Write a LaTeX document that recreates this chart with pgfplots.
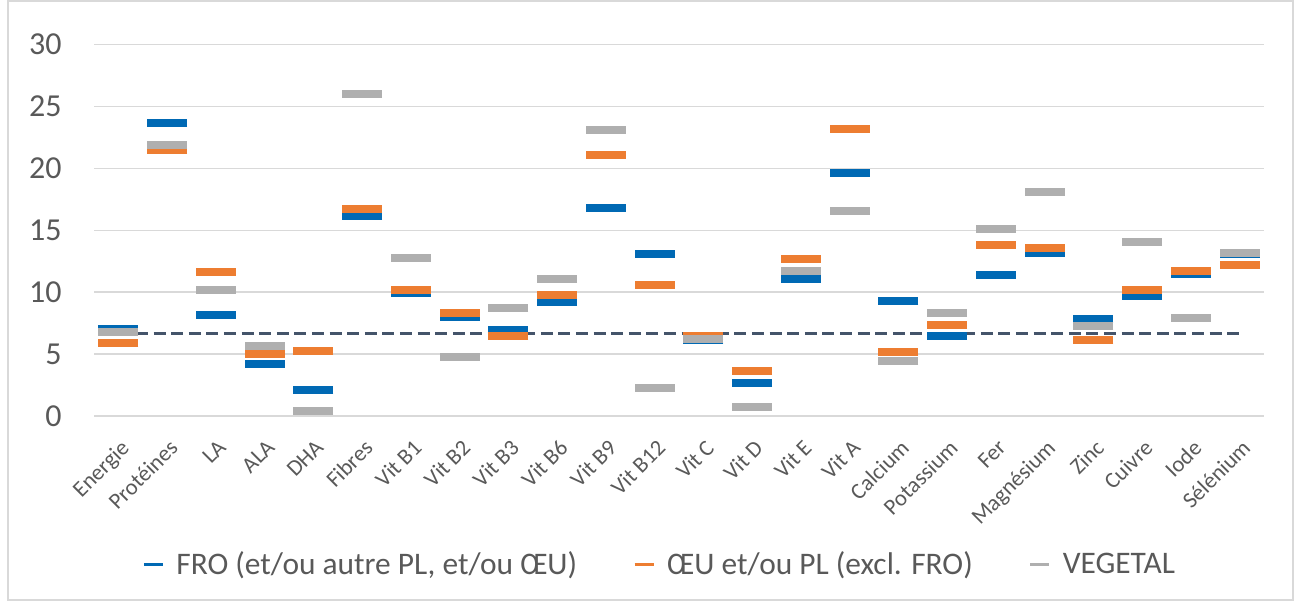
\documentclass[border=0pt]{standalone}
\usepackage{fontspec}
\setmainfont{Carlito}
\usepackage{pgfplots}
\pgfplotsset{compat=1.18}
\definecolor{fro}{HTML}{0069B4}
\definecolor{oeu}{HTML}{ED7D31}
\definecolor{veg}{HTML}{AFAFAF}
\definecolor{txt}{HTML}{595959}
\definecolor{grd}{HTML}{D9D9D9}
\definecolor{ref}{HTML}{44546A}

% x = category index, y = value
\pgfplotstableread{
x y
0 7.03
1 23.67
2 8.16
3 4.20
4 2.10
5 16.16
6 9.94
7 8.00
8 6.95
9 9.20
10 16.80
11 13.09
12 6.17
13 2.66
14 11.06
15 19.63
16 9.29
17 6.46
18 11.39
19 13.17
20 7.84
21 9.69
22 11.47
23 13.09
}\fro
\pgfplotstableread{
x y
0 5.90
1 21.51
2 11.63
3 5.00
4 5.25
5 16.72
6 10.18
7 8.32
8 6.46
9 9.78
10 21.08
11 10.58
12 6.46
13 3.63
14 12.68
15 23.18
16 5.17
17 7.35
18 13.81
19 13.57
20 6.14
21 10.18
22 11.71
23 12.20
}\oeu
\pgfplotstableread{
x y
0 6.81
1 21.89
2 10.18
3 5.65
4 0.40
5 26.00
6 12.76
7 4.77
8 8.72
9 11.06
10 23.10
11 2.26
12 6.25
13 0.73
14 11.71
15 16.56
16 4.44
17 8.32
18 15.10
19 18.09
20 7.27
21 14.05
22 7.92
23 13.17
}\veg

\begin{document}
\begin{tikzpicture}
\path[use as bounding box] (0,0) rectangle (647pt,300.5pt);
\draw[grd,line width=0.75pt] (4pt,0.4pt) rectangle (646.4pt,300.1pt);
\begin{axis}[
  at={(47pt,92.5pt)},anchor=south west,
  scale only axis,width=585pt,height=185.7pt,
  xmin=-0.5,xmax=23.5,ymin=0,ymax=30,
  ytick={0,5,...,30},
  xtick={0,...,23},
  xticklabels={Energie,Protéines,LA,ALA,DHA,Fibres,Vit B1,Vit B2,Vit B3,Vit B6,Vit B9,Vit B12,Vit C,Vit D,Vit E,Vit A,Calcium,Potassium,Fer,Magnésium,Zinc,Cuivre,Iode,Sélénium},
  ymajorgrids,grid style={grd,line width=0.75pt},
  axis line style={draw=none},
  major tick length=0pt,
  /pgf/number format/assume math mode=true,
  y tick label style={font=\fontsize{16}{19}\selectfont,text=txt,anchor=east,inner sep=0pt,xshift=-16pt},
  x tick label style={font=\fontsize{11.3}{13}\selectfont,text=txt,xshift=0.5pt,yshift=-11pt,rotate=45,anchor=north east,inner sep=0pt},
  legend columns=3,
  legend style={draw=none,fill=none,inner sep=0pt,at={(0.041,-0.401)},anchor=west,
    font=\fontsize{15.7}{18}\selectfont,text=txt,
    /tikz/every odd column/.append style={column sep=4pt},
    /tikz/every even column/.append style={column sep=26pt}},
  clip=false,
]
\addplot[only marks,mark=-,mark size=10pt,mark options={line width=4pt,fro},
  legend image code/.code={\draw[fro,line width=1.5pt] (0pt,0pt)--(9.5pt,0pt);}]
  table[x=x,y=y]{\fro};
\addlegendentry{FRO (et/ou autre PL, et/ou ŒU)}
\addplot[ref,line width=1.5pt,dash pattern=on 6pt off 2.8pt,forget plot]
  coordinates {(0,6.68) (23,6.68)};
\addplot[only marks,mark=-,mark size=10pt,mark options={line width=4pt,oeu},
  legend image code/.code={\draw[oeu,line width=1.5pt] (0pt,0pt)--(9.5pt,0pt);}]
  table[x=x,y=y]{\oeu};
\addlegendentry{ŒU et/ou PL (excl. FRO)}
\addplot[only marks,mark=-,mark size=10pt,mark options={line width=4pt,veg},
  legend image code/.code={\draw[veg,line width=1.5pt] (0pt,0pt)--(9.5pt,0pt);}]
  table[x=x,y=y]{\veg};
\addlegendentry{VEGETAL}
\end{axis}
\end{tikzpicture}
\end{document}
